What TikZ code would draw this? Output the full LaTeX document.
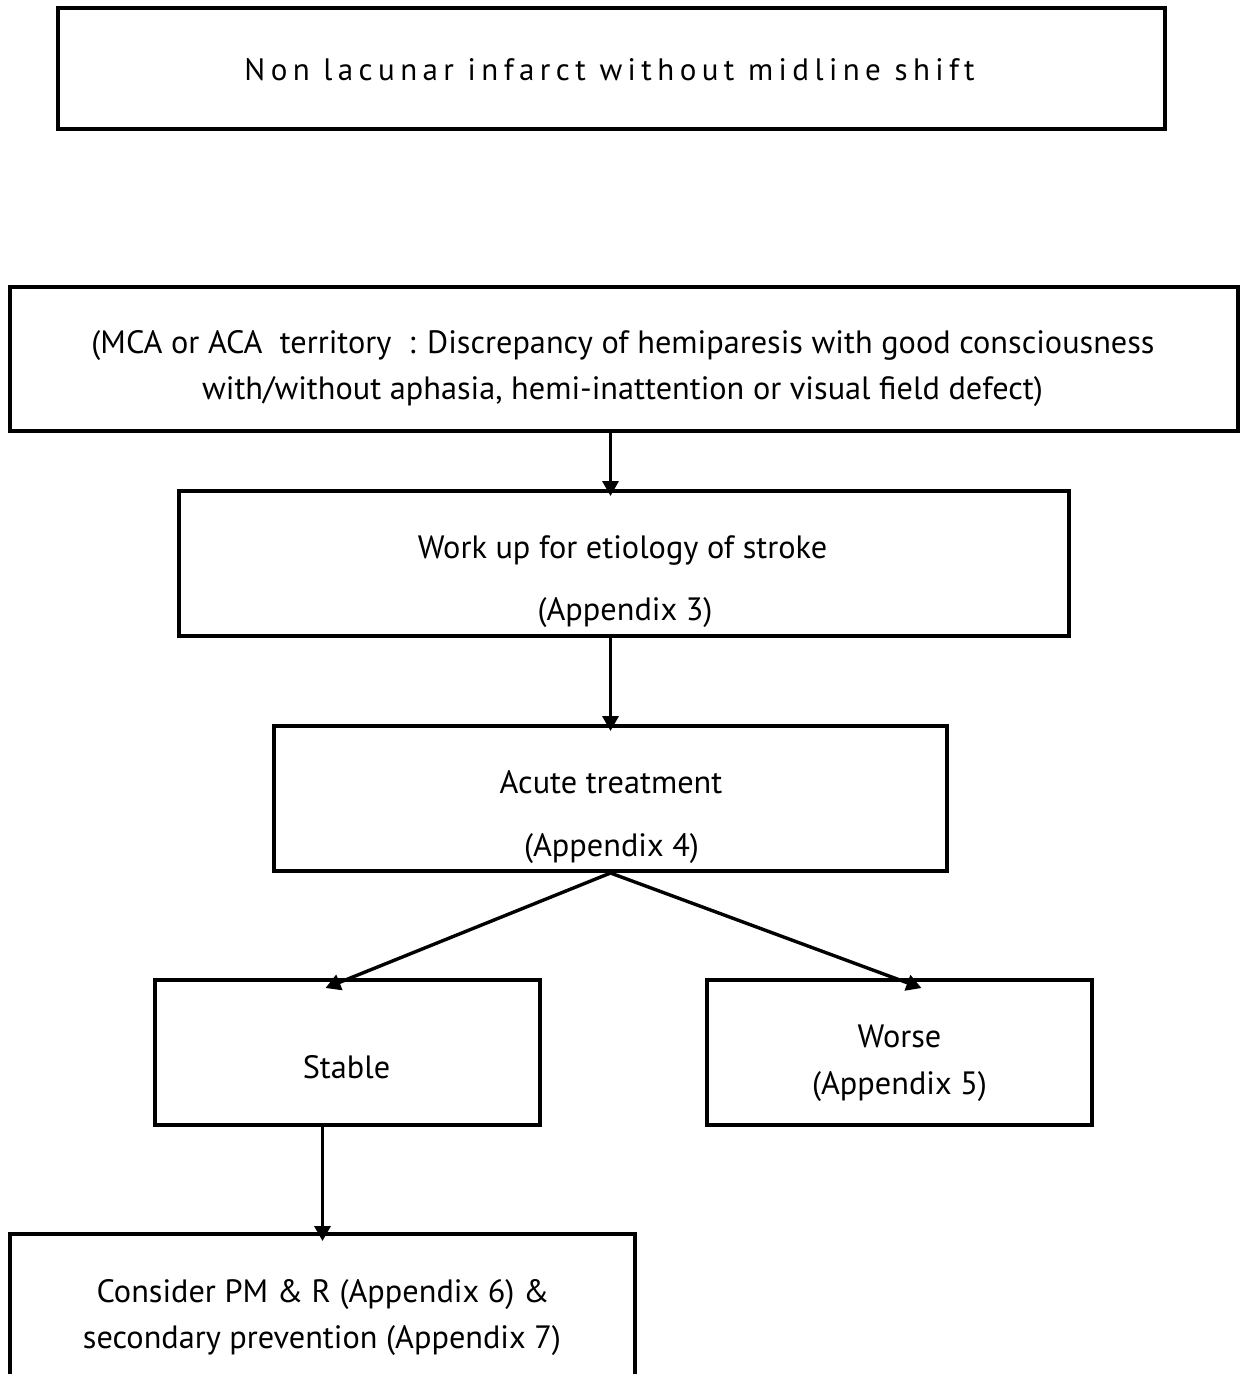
\documentclass[tikz,border=0pt]{standalone}
\usepackage{fontspec}
\setmainfont{PT Sans}
\usetikzlibrary{arrows.meta,calc}
\begin{document}
\begin{tikzpicture}[x=1pt,y=-1pt,
  box/.style={draw, line width=4pt, rectangle, inner sep=0pt},
  txt/.style={anchor=base, inner sep=0pt, font=\fontsize{32.3}{38}\selectfont},
  arr/.style={line width=3.4pt, -{Triangle[length=15pt,width=16pt]}}]
\useasboundingbox (0,0) rectangle (1240,1374);
\clip (0,0) rectangle (1240,1374);
% boxes
\node[box, minimum width=1107pt, minimum height=121pt] (title) at (611.5,68.5) {};
\node[box, minimum width=1228pt, minimum height=144pt] (b2) at (624,359) {};
\node[box, minimum width=890pt, minimum height=145pt] (b3) at (624,563.5) {};
\node[box, minimum width=673pt, minimum height=145pt] (b4) at (610.5,798.5) {};
\node[box, minimum width=385pt, minimum height=145pt] (stable) at (347.5,1052.5) {};
\node[box, minimum width=385pt, minimum height=145pt] (worse) at (899.5,1052.5) {};
\node[box, minimum width=625pt, minimum height=200pt] (last) at (322.5,1334) {};
% texts
\node[txt, font=\fontsize{31}{38}\selectfont\addfontfeatures{LetterSpace=17.5}] (t1) at (609.5,80) {Non lacunar infarct without midline shift};
\node[txt] (t2a) at (623,353) {(MCA or ACA\ \ territory\ \ : Discrepancy of hemiparesis with good consciousness};
\node[txt] (t2b) at (622.5,399) {with/without aphasia, hemi-inattention or visual field defect)};
\node[txt] (t3a) at (622.5,558) {Work up for etiology of stroke};
\node[txt] (t3b) at (625,620) {(Appendix 3)};
\node[txt] (t4a) at (611,793) {Acute treatment};
\node[txt] (t4b) at (611.5,856) {(Appendix 4)};
\node[txt] (ts) at (346.5,1078) {Stable};
\node[txt] (twa) at (899.5,1047) {Worse};
\node[txt] (twb) at (899.5,1094) {(Appendix 5)};
\node[txt] (tla) at (323,1302) {Consider PM \& R (Appendix 6) \&};
\node[txt] (tlb) at (322,1348) {secondary prevention (Appendix 7)};
% arrows
\draw[arr] (b2.south -| b4.south) -- ($(b3.north -| b4.south)+(0,7)$);
\draw[arr] (b3.south -| b4.north) -- ($(b4.north)+(0,7)$);
\draw[arr] (b4.south) -- ($(stable.north)+(-22,10)$);
\draw[arr] (b4.south) -- ($(worse.north)+(22,10)$);
\draw[arr] (stable.south -| last.north) -- ($(last.north)+(0,9)$);
\end{tikzpicture}
\end{document}
